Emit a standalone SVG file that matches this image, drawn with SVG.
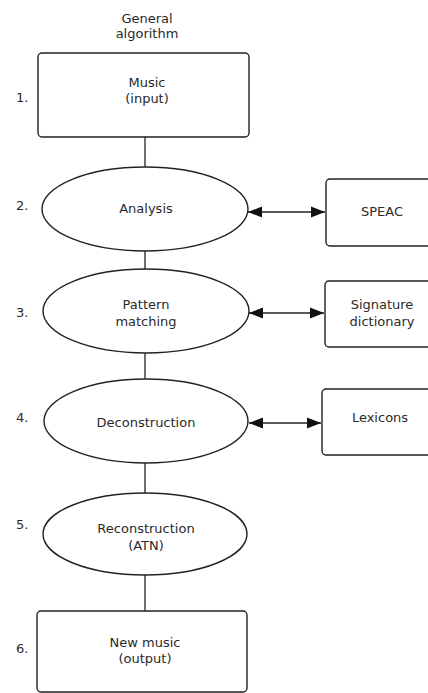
<svg xmlns="http://www.w3.org/2000/svg" width="428" height="693" viewBox="0 0 428 693">
<style>
text{font-family:"DejaVu Sans","Liberation Sans",sans-serif;font-size:13px;fill:#2a2a2a;text-anchor:middle}
.num{text-anchor:start}
.shape{fill:#fff;stroke:#222;stroke-width:1.4}
.line{stroke:#333;stroke-width:1.4;fill:none}
.arr{stroke:#222;stroke-width:1.6;fill:none;marker-start:url(#ah);marker-end:url(#ah)}
</style>
<defs>
<marker id="ah" markerUnits="userSpaceOnUse" markerWidth="15" markerHeight="13" refX="14" refY="6.5" orient="auto-start-reverse">
<path d="M0,1 L14,6.5 L0,12 z" fill="#111"/>
</marker>
</defs>
<rect width="428" height="693" fill="#fff"/>
<g id="title"><text x="147" y="23">General</text><text x="147" y="38">algorithm</text></g>
<g id="connectors">
<line class="line" x1="145" y1="137" x2="145" y2="167"/>
<line class="line" x1="145" y1="251" x2="145" y2="270"/>
<line class="line" x1="145" y1="353" x2="145" y2="380"/>
<line class="line" x1="145" y1="463" x2="145" y2="493"/>
<line class="line" x1="145" y1="575" x2="145" y2="611"/>
<line class="arr" x1="248" y1="212" x2="325" y2="212"/>
<line class="arr" x1="249" y1="313" x2="324" y2="313"/>
<line class="arr" x1="249" y1="423" x2="321" y2="423"/>
</g>
<g id="n1"><rect class="shape" x="38" y="53" width="211" height="84" rx="4"/><text x="147" y="87">Music</text><text x="147" y="103">(input)</text><text class="num" x="16" y="102">1.</text></g>
<g id="n2"><ellipse class="shape" cx="145" cy="209" rx="103" ry="42"/><text x="146" y="213">Analysis</text><text class="num" x="16" y="210">2.</text></g>
<g id="n3"><ellipse class="shape" cx="146" cy="311" rx="103" ry="42"/><text x="146" y="309">Pattern</text><text x="146" y="326">matching</text><text class="num" x="16" y="317">3.</text></g>
<g id="n4"><ellipse class="shape" cx="146" cy="421" rx="102" ry="42"/><text x="146" y="427">Deconstruction</text><text class="num" x="16" y="422">4.</text></g>
<g id="n5"><ellipse class="shape" cx="145" cy="534" rx="102" ry="41"/><text x="146" y="533">Reconstruction</text><text x="146" y="550">(ATN)</text><text class="num" x="16" y="529">5.</text></g>
<g id="n6"><rect class="shape" x="37" y="611" width="210" height="81" rx="4"/><text x="145" y="647">New music</text><text x="145" y="663">(output)</text><text class="num" x="16" y="653">6.</text></g>
<g id="speac"><rect class="shape" x="326" y="179" width="110" height="67" rx="4"/><text x="382" y="216">SPEAC</text></g>
<g id="sig"><rect class="shape" x="325" y="281" width="110" height="66" rx="4"/><text x="382" y="309">Signature</text><text x="382" y="326">dictionary</text></g>
<g id="lex"><rect class="shape" x="322" y="389" width="112" height="66" rx="4"/><text x="380" y="422">Lexicons</text></g>
</svg>
